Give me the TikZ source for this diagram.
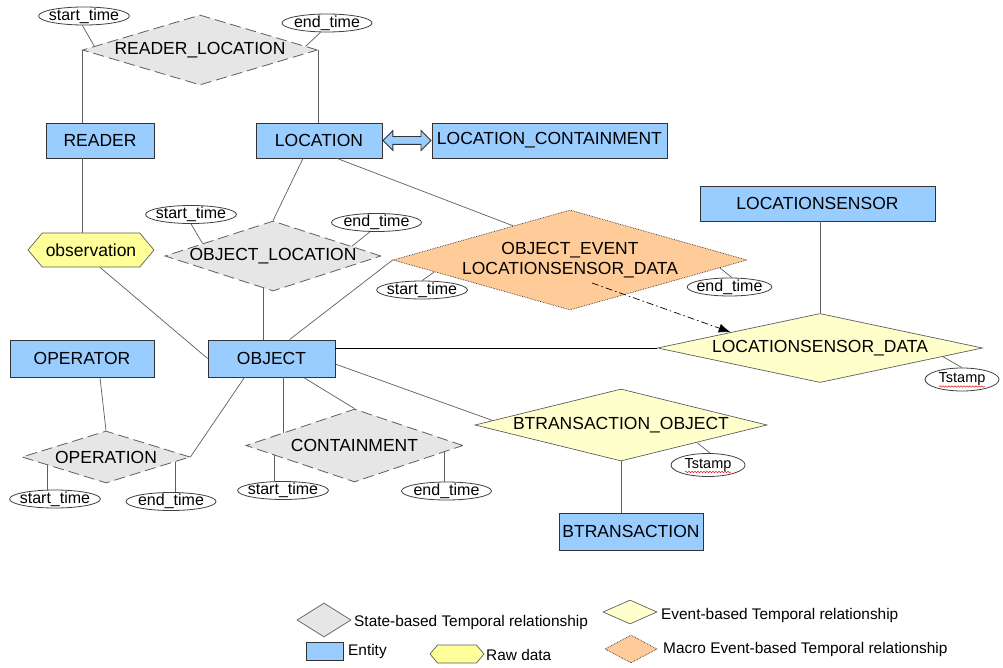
\documentclass[tikz,border=0pt]{standalone}
\usepackage{fontspec}
\setmainfont{Liberation Sans}
\usetikzlibrary{positioning,shapes.geometric,shapes.symbols,shapes.arrows,arrows.meta,decorations.pathmorphing}
\definecolor{entityblue}{HTML}{99CCFF}
\definecolor{stategray}{HTML}{E6E6E6}
\definecolor{eventyellow}{HTML}{FFFFCC}
\definecolor{rawyellow}{HTML}{FFFF99}
\definecolor{macroorange}{HTML}{FFCC99}
\definecolor{linegray}{HTML}{5E5E5E}
\definecolor{boxline}{HTML}{333333}
\definecolor{spellred}{HTML}{E02020}
\begin{document}
\begin{tikzpicture}[x=1pt,y=-1pt,
    labelfont/.style={font=\fontsize{17.5}{20}\selectfont},
    entity/.style={rectangle, draw=boxline, fill=entityblue, line width=0.8pt, inner sep=0pt, labelfont},
    statebased/.style={diamond, draw=linegray, fill=stategray, line width=0.8pt, dash pattern=on 11pt off 5pt, inner sep=0pt, labelfont},
    eventbased/.style={diamond, draw=linegray, fill=eventyellow, line width=0.7pt, inner sep=0pt, labelfont},
    macroevent/.style={diamond, draw=black!80, fill=macroorange, line width=0.7pt, densely dotted, inner sep=0pt, labelfont},
    rawdata/.style={signal, signal to=west and east, signal pointer angle=100, draw=linegray, fill=rawyellow, line width=0.7pt, inner sep=0pt, labelfont},
    attr/.style={ellipse, draw=black!75, fill=white, line width=0.8pt, inner sep=-3pt, minimum width=90pt, minimum height=18pt, font=\fontsize{16}{18}\selectfont},
    tsattr/.style={attr, minimum width=74pt, minimum height=23pt, font=\fontsize{14.5}{16}\selectfont},
    link/.style={draw=linegray, line width=0.7pt},
    strong/.style={draw=black, line width=0.9pt},
    evflow/.style={draw=black, line width=0.7pt, dash pattern=on 7pt off 3pt on 1.5pt off 3pt, -{Latex[length=12pt,width=9pt]}},
    squiggle/.style={spellred, line width=0.5pt, decorate, decoration={snake, amplitude=0.7pt, segment length=3pt}},
    legtext/.style={anchor=west, inner sep=0pt, font=\fontsize{15.4}{17}\selectfont}]
  \useasboundingbox[fill=white] (0,0) rectangle (1003,668);

  \node[statebased, aspect=3.36, minimum width=235pt, minimum height=70pt] (rdloc) at (200,50) {READER\_LOCATION};
  \node[attr] (st1) at (84,16) {start\_time};
  \node[attr] (en1) at (327,23) {end\_time};
  \node[entity, minimum width=108pt, minimum height=35pt] (reader) at (100,140.5) {READER};
  \node[entity, minimum width=126pt, minimum height=35pt] (loc) at (319,140.5) {LOCATION};
  \node[double arrow, draw=boxline, fill=entityblue, line width=0.8pt, inner sep=3.5pt, double arrow head extend=6pt, minimum height=48pt, right=0pt of loc] (locarrow) {};
  \node[entity, minimum width=235pt, minimum height=35pt, right=0pt of locarrow] (lcont) {LOCATION\_CONTAINMENT};
  \node[rawdata, minimum width=126pt, minimum height=34pt] (obs) at (91,250) {observation};
  \node[statebased, aspect=3.09, minimum width=216pt, minimum height=70pt] (objloc) at (273,256) {OBJECT\_LOCATION};
  \node[attr] (st2) at (191,214.5) {start\_time};
  \node[attr] (en2) at (376.5,222.5) {end\_time};
  \node[macroevent, aspect=3.54, minimum width=354pt, minimum height=100pt, align=center] (objev) at (570,260) {OBJECT\_EVENT\\LOCATIONSENSOR\_DATA};
  \node[attr, minimum width=80pt] (st3) at (422,290) {start\_time};
  \node[attr, minimum width=75pt] (en3) at (729.5,287) {end\_time};
  \node[entity, minimum width=235pt, minimum height=35pt] (lsensor) at (817.5,203.5) {LOCATIONSENSOR};
  \node[eventbased, aspect=4.71, minimum width=325pt, minimum height=69pt] (lsd) at (820,348) {LOCATIONSENSOR\_DATA};
  \node[tsattr] (ts1) at (962,379.5) {Tstamp};
  \node[entity, minimum width=144pt, minimum height=37pt] (operator) at (82,358.5) {OPERATOR};
  \node[entity, minimum width=127pt, minimum height=37pt] (object) at (271.5,358.5) {OBJECT};
  \node[eventbased, aspect=4.06, minimum width=292pt, minimum height=72pt] (bto) at (621,425) {BTRANSACTION\_OBJECT};
  \node[tsattr] (ts2) at (708,465) {Tstamp};
  \node[entity, minimum width=144pt, minimum height=37pt] (btrans) at (631,531.5) {BTRANSACTION};
  \node[statebased, aspect=3.23, minimum width=168pt, minimum height=52pt] (op) at (106,457) {OPERATION};
  \node[attr] (st4) at (55,499) {start\_time};
  \node[attr] (en4) at (171,501.5) {end\_time};
  \node[statebased, aspect=2.97, minimum width=217pt, minimum height=73pt] (cont) at (354.5,445.5) {CONTAINMENT};
  \node[attr] (st5) at (283,490.5) {start\_time};
  \node[attr] (en5) at (446.5,491) {end\_time};
  \coordinate (evsrc) at (592,283);

  \begin{scope}[link]
    \draw (st1.260) -- (rdloc.178);
    \draw (en1.235) -- (rdloc.2);
    \draw (rdloc.west) -- (rdloc.west |- reader.north);
    \draw (rdloc.east) -- (rdloc.east |- loc.north);
    \draw (rdloc.west |- reader.south) -- (rdloc.west |- obs.north);
    \draw ([xshift=9pt]obs.south) -- (object.west);
    \draw (st2.south) -- (objloc.170);
    \draw (en2.235) -- (objloc.7);
    \draw ([xshift=-16pt]loc.south) -- (objloc.north);
    \draw (objloc.-107) -- (objloc.-107 |- object.north);
    \draw ([xshift=18pt]loc.south) -- (objev.149);
    \draw ([xshift=18pt]object.north) -- (objev.west);
    \draw (st3.north) -- (objev.185);
    \draw (en3.75) -- (objev.-3);
    \draw (lsd.north |- lsensor.south) -- (lsd.north);
    \draw (ts1.north) -- (lsd.-4);
    \draw (object.-5) -- (bto.178);
    \draw (bto.south) -- (bto.south |- btrans.north);
    \draw (ts2.80) -- (bto.-13);
    \draw ([xshift=18pt]operator.south) -- (op.north);
    \draw (op.east) -- ([xshift=-27pt]object.south);
    \draw (op.188) -- (op.188 |- st4.north);
    \draw (op.-4) -- (op.-4 |- en4.north);
    \draw (cont.170 |- object.south) -- (cont.170);
    \draw ([xshift=32pt]object.south) -- (cont.north);
    \draw (cont.187) -- (cont.187 |- st5.north);
    \draw (cont.-4) -- (cont.-4 |- en5.north);
  \end{scope}
  \draw[strong] (object.east |- lsd.west) -- (lsd.west);
  \draw[evflow] (evsrc) -- (lsd.170);
  \draw[squiggle] ([xshift=-23pt,yshift=-7pt]ts1.center) -- ++(46,0);
  \draw[squiggle] ([xshift=-23pt,yshift=-7pt]ts2.center) -- ++(46,0);

  \node[diamond, draw=linegray, fill=stategray, line width=0.7pt, inner sep=0pt, minimum width=54pt, minimum height=34pt] (lgstate) at (324,620) {};
  \node[legtext] (lgstatetxt) at (354,623) {State-based Temporal relationship};
  \node[entity, minimum width=37pt, minimum height=18pt] (lgentity) at (325,651) {};
  \node[legtext] (lgentitytxt) at (348,652) {Entity};
  \node[rawdata, minimum width=54pt, minimum height=18pt] (lgraw) at (457,654) {};
  \node[legtext] (lgrawtxt) at (486,655) {Raw data};
  \node[eventbased, minimum width=54pt, minimum height=24pt] (lgevent) at (630,612) {};
  \node[legtext] (lgeventtxt) at (661,616) {Event-based Temporal relationship};
  \node[macroevent, minimum width=52pt, minimum height=28pt] (lgmacro) at (631,649) {};
  \node[legtext] (lgmacrotxt) at (663,650) {Macro Event-based Temporal relationship};
\end{tikzpicture}
\end{document}
